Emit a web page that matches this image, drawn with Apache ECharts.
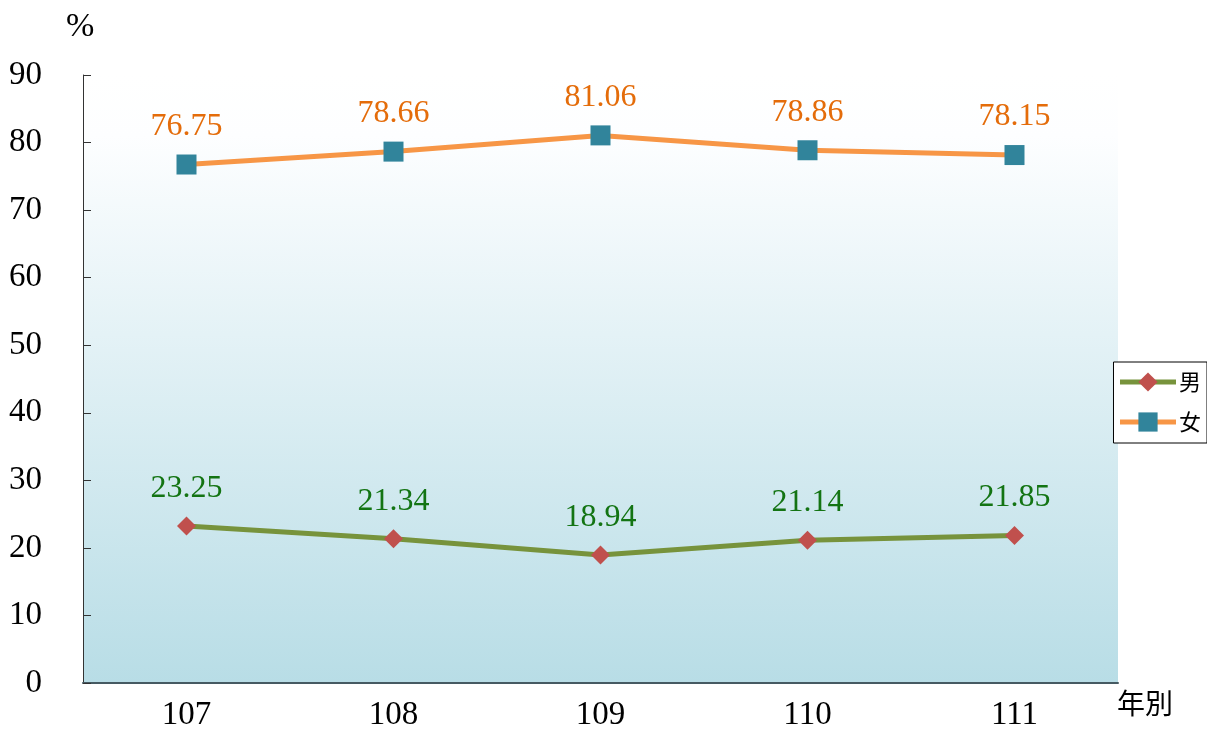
<!DOCTYPE html>
<html><head><meta charset="utf-8">
<script src="https://cdn.jsdelivr.net/npm/echarts@6/dist/echarts.min.js"></script>
<style>html,body{margin:0;padding:0;background:#fff}#c{width:1207px;height:732px}</style>
</head><body><div id="c"></div>
<script>
const categories = ['107', '108', '109', '110', '111'];
const maleValues = [23.25, 21.34, 18.94, 21.14, 21.85];
const femaleValues = [76.75, 78.66, 81.06, 78.86, 78.15];
const seriesNames = ['男', '女'];
const yTicks = [0, 90, 10];

const chart = echarts.init(document.getElementById('c'));
const serif = '"Liberation Serif","DejaVu Serif","Noto Sans CJK TC",serif';
chart.setOption({
  animation: false,
  grid: {left: 83, right: 89, top: 75, bottom: 48, show: true, borderWidth: 0,
    backgroundColor: {type: 'linear', x: 0, y: 0, x2: 0, y2: 1, colorStops: [
      {offset: 0, color: '#ffffff'}, {offset: 0.1, color: '#fdfeff'}, {offset: 1, color: '#b8dde6'}]}},
  graphic: [
    {type: 'text', left: 66, top: 10, style: {text: '%', font: '34px ' + serif, fill: '#000'}},
    {type: 'text', left: 1117, top: 689, style: {text: '年別', font: '28px "Noto Sans CJK TC",serif', fill: '#000'}}
  ],
  legend: {
    right: 0, top: 362, orient: 'vertical', itemGap: 18, itemWidth: 56, itemHeight: 24,
    padding: [9, 6, 10, 4],
    borderColor: '#000', borderWidth: 1, backgroundColor: '#fff',
    lineStyle: {width: 5},
    textStyle: {fontSize: 22, fontFamily: '"Noto Sans CJK TC",serif', color: '#000', padding: [0,0,0,-2]},
    data: seriesNames
  },
  xAxis: {
    type: 'category', data: categories, boundaryGap: true,
    axisLine: {lineStyle: {color: '#465a62', width: 2}},
    axisTick: {inside: true, length: 8, lineStyle: {color: '#465a62', width: 1}},
    axisLabel: {fontSize: 33, fontFamily: serif, color: '#000', margin: 16}
  },
  yAxis: {
    type: 'value', min: yTicks[0], max: yTicks[1], interval: yTicks[2],
    splitLine: {show: false},
    axisLine: {show: true, lineStyle: {color: '#333', width: 1}},
    axisTick: {show: true, inside: true, length: 8, lineStyle: {color: '#333'}},
    axisLabel: {fontSize: 33, fontFamily: serif, color: '#000', margin: 41}
  },
  series: [
    {name: seriesNames[0], type: 'line', data: maleValues, symbol: 'diamond', symbolSize: 19,
      lineStyle: {color: '#77933c', width: 5}, itemStyle: {color: '#c0504d'},
      label: {show: true, position: 'top', distance: 12, fontSize: 32, fontFamily: serif, color: '#137413',
        formatter: p => p.value.toFixed(2)}},
    {name: seriesNames[1], type: 'line', data: femaleValues, symbol: 'rect', symbolSize: 20,
      lineStyle: {color: '#f79646', width: 5}, itemStyle: {color: '#31849b'},
      label: {show: true, position: 'top', distance: 12, fontSize: 32, fontFamily: serif, color: '#e46c0a',
        formatter: p => p.value.toFixed(2)}}
  ]
});
</script></body></html>
